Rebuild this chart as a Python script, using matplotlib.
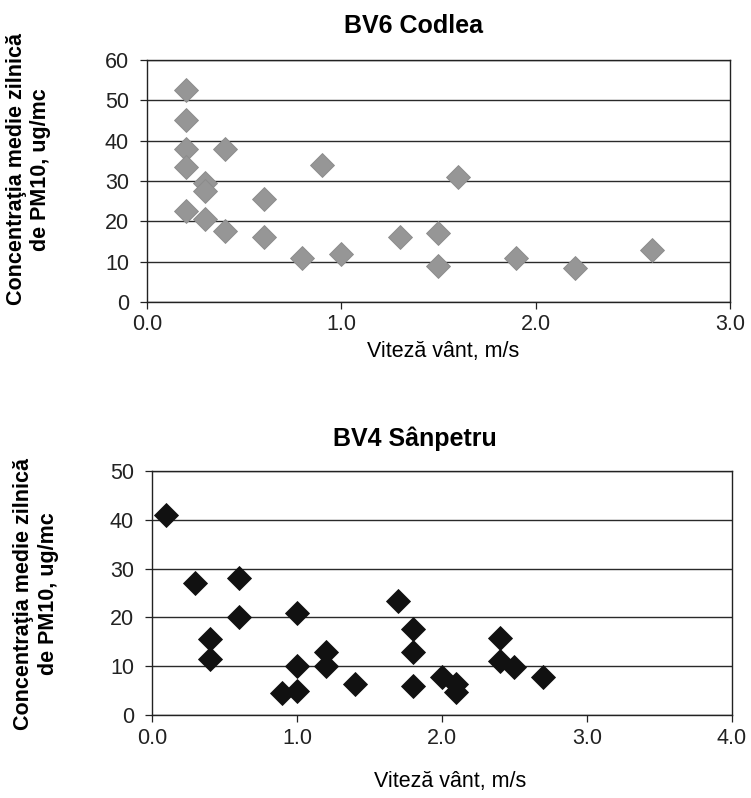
import matplotlib.pyplot as plt
from matplotlib.ticker import FormatStrFormatter, MultipleLocator

plt.rcParams['font.family'] = ['Liberation Sans', 'DejaVu Sans']

# BV6 Codlea
codlea_vant = [0.2, 0.2, 0.2, 0.2, 0.4, 0.3, 0.3, 0.2, 0.3, 0.4, 0.6,
               0.6, 0.9, 0.8, 1.0, 1.3, 1.5, 1.5, 1.6, 1.9, 2.2, 2.6]
codlea_pm10 = [52.5, 45, 38, 33.5, 38, 29.5, 27.5, 22.5, 20.5, 17.5, 25.5,
               16, 34, 11, 12, 16, 17, 9, 31, 11, 8.5, 13]

# BV4 Sanpetru
sanpetru_vant = [0.1, 0.3, 0.6, 0.6, 0.4, 0.4, 1.0, 1.0, 0.9, 1.0, 1.2, 1.2,
                 1.4, 1.7, 1.8, 1.8, 1.8, 2.0, 2.1, 2.1, 2.4, 2.4, 2.5, 2.7]
sanpetru_pm10 = [41, 27, 28, 20, 15.5, 11.5, 21, 10, 4.5, 5, 13, 10,
                 6.3, 23.3, 17.6, 13, 6, 7.8, 4.8, 6.3, 15.7, 11, 9.8, 7.8]

ylabel = "Concentraţia medie zilnică\nde PM10, ug/mc"
xlabel = "Viteză vânt, m/s"

fig = plt.figure(figsize=(7.51, 7.98), dpi=100)
ax1 = fig.add_axes([0.1957, 0.6216, 0.7763, 0.3032])
ax2 = fig.add_axes([0.2024, 0.104, 0.772, 0.3058])


def stil(ax, xmax, ymax):
    ax.set_xlim(0, xmax)
    ax.set_ylim(0, ymax)
    ax.xaxis.set_major_locator(MultipleLocator(1))
    ax.yaxis.set_major_locator(MultipleLocator(10))
    ax.xaxis.set_major_formatter(FormatStrFormatter('%.1f'))
    ax.grid(axis='y', color='#2a2a2a', linewidth=1.0)
    ax.set_axisbelow(True)
    for s in ax.spines.values():
        s.set_linewidth(1.0)
        s.set_color('#222222')
    ax.tick_params(axis='both', direction='out', length=5, width=0.9,
                   labelsize=15.5, colors='#222222')
    ax.tick_params(axis='x', pad=4)
    ax.tick_params(axis='y', pad=8)


ax1.plot(codlea_vant, codlea_pm10, 'D', ms=12.5, color='#969696',
         markeredgecolor='#8a8a8a', markeredgewidth=0.6, clip_on=False)
stil(ax1, 3, 60)

ax2.plot(sanpetru_vant, sanpetru_pm10, 'D', ms=12.5, color='#111111',
         markeredgecolor='#111111', markeredgewidth=0.6, clip_on=False)
stil(ax2, 4, 50)

fig.text(0.55, 0.967, "BV6 Codlea", ha='center', va='center',
         fontsize=18, fontweight='bold')
fig.text(0.553, 0.450, "BV4 Sânpetru", ha='center', va='center',
         fontsize=18, fontweight='bold')

fig.text(0.590, 0.559, xlabel, ha='center', va='center', fontsize=15.5)
fig.text(0.600, 0.021, xlabel, ha='center', va='center', fontsize=15.5)

fig.text(0.038, 0.788, ylabel, ha='center', va='center', rotation=90,
         multialignment='center', fontsize=15.5, fontweight='bold')
fig.text(0.048, 0.256, ylabel, ha='center', va='center', rotation=90,
         multialignment='center', fontsize=15.5, fontweight='bold')

fig.savefig('out.png', dpi=100)
